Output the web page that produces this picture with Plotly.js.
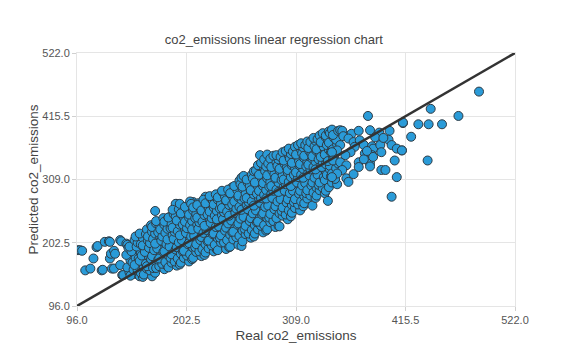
<!DOCTYPE html>
<html>
<head>
<meta charset="utf-8">
<script src="https://cdn.plot.ly/plotly-3.0.1.min.js"></script>
<style>html,body{margin:0;padding:0;background:#fff;}#chart{width:567px;height:362px;}</style>
</head>
<body>
<div id="chart"></div>
<script>
// Real vs predicted co2_emissions
const realCo2 = [
  97,99,101,104,109,112,115,116,120,121,123,127,128,128,129,130,132,132,133,138,138,139,140,141,144,145,150,152,153,172,187,193,221,233,247,192,193,209,216,
  147,145,148,144,146,
  148,151,150,153,149,147,152,
  157,155,152,156,158,154,155,153,
  160,158,161,157,159,162,158,160,157,
  161,164,163,166,162,160,165,163,164,
  169,167,164,168,170,166,167,165,169,168,
  172,170,173,169,171,174,170,172,169,173,
  173,176,175,178,174,172,177,175,176,173,
  181,179,176,180,182,178,179,177,181,180,
  184,182,185,181,183,186,182,184,181,185,
  185,188,187,190,186,184,189,187,188,185,190,
  193,191,188,192,194,190,191,189,193,192,189,
  196,194,197,193,195,198,194,196,193,197,195,196,
  197,200,199,202,198,196,201,199,200,197,202,
  205,203,200,204,206,202,203,201,205,204,201,206,
  208,206,209,205,207,210,206,208,205,209,207,
  209,212,211,214,210,208,213,211,212,209,214,
  217,215,212,216,218,214,215,213,217,216,213,
  220,218,221,217,219,222,218,220,217,221,219,
  221,224,223,226,222,220,225,223,224,221,226,
  229,227,224,228,230,226,227,225,229,228,225,
  232,230,233,229,231,234,230,232,229,233,231,
  233,236,235,238,234,232,237,235,236,233,238,
  241,239,236,240,242,238,239,237,241,240,237,
  244,242,245,241,243,246,242,244,241,245,243,
  245,248,247,250,246,244,249,247,248,245,250,
  253,251,248,252,254,250,251,249,253,252,249,254,
  256,254,257,253,255,258,254,256,253,257,255,256,
  257,260,259,262,258,256,261,259,260,257,262,258,
  265,263,260,264,266,262,263,261,265,264,261,266,
  268,266,269,265,267,270,266,268,265,269,267,268,
  269,272,271,274,270,268,273,271,272,269,274,270,272,
  277,275,272,276,278,274,275,273,277,276,273,278,275,274,
  280,278,281,277,279,282,278,280,277,281,279,280,278,281,
  281,284,283,286,282,280,285,283,284,281,286,282,284,
  289,287,284,288,290,286,287,285,289,288,285,290,287,
  292,290,293,289,291,294,290,292,289,293,291,292,290,
  293,296,295,298,294,292,297,295,296,293,298,294,296,
  301,299,296,300,302,298,299,297,301,300,297,302,299,
  304,302,305,301,303,306,302,304,301,305,303,304,302,
  305,308,307,310,306,304,309,307,308,305,310,306,308,
  313,311,308,312,314,310,311,309,313,312,309,314,311,
  316,314,317,313,315,318,314,316,313,317,315,316,314,
  317,320,319,322,318,316,321,319,320,317,322,318,320,
  325,323,320,324,326,322,323,321,325,324,321,326,323,
  328,326,329,325,327,330,326,328,325,329,327,328,326,
  329,332,331,334,330,328,333,331,332,329,334,330,332,
  337,335,332,336,338,334,335,333,337,336,333,338,335,
  340,338,341,337,339,342,338,340,337,341,339,340,338,341,
  341,344,343,346,342,340,345,343,344,341,346,342,344,
  349,347,344,348,350,346,347,345,349,348,345,350,
  352,358,354,363,370,381,388,390,400,399,355,360,365,371,375,366,362,352,349,344,357,345,352,358,354,349,344,358,370,383,384,391,392,383,381,381,392,396,402,407,412,405,407,384,376,402,379,413,413,428,438,451,421,412,437,440,467,487,
  360,365,370,375,378,386,394
];
const predictedCo2 = [
  190,190,189,156,159,176,195,197,156,157,204,205,204,176,184,159,189,159,184,207,165,205,148,148,201,199,190,181,150,256,246,268,280,280,296,268,257,271,266,
  153,161,173,182,194,
  147,157,169,177,188,196,207,
  146,156,165,176,185,196,203,213,
  145,152,161,172,181,192,200,211,218,
  149,159,167,179,187,198,206,217,225,
  146,156,163,175,183,194,202,213,221,232,
  152,160,171,180,190,198,209,218,229,235,
  160,163,174,182,193,201,212,220,232,239,
  158,167,176,187,195,206,213,225,233,244,
  163,170,181,188,200,207,219,226,238,245,
  161,169,177,189,196,208,215,227,234,245,251,
  164,171,183,191,202,209,221,228,240,247,258,
  166,176,184,195,203,214,222,233,240,251,259,268,
  169,177,188,196,207,215,226,233,245,252,263,
  171,181,189,200,208,219,227,238,245,256,263,272,
  175,183,194,202,213,220,232,239,250,257,268,
  177,187,195,206,214,225,233,244,251,262,269,
  180,188,200,207,218,226,237,245,256,263,266,
  182,192,200,212,219,231,238,249,257,268,275,
  186,193,205,212,224,231,243,250,261,269,278,
  188,198,206,217,225,236,244,255,262,274,281,
  191,199,210,218,229,237,248,256,267,275,284,
  190,203,211,222,230,242,249,260,268,279,287,
  192,203,215,223,234,242,254,261,273,280,290,
  195,207,216,228,235,247,255,266,274,285,292,
  196,208,220,228,240,248,259,267,278,286,297,
  199,212,221,233,241,253,260,272,279,291,298,307,
  197,214,223,235,243,255,263,275,282,294,301,312,
  205,217,226,238,246,258,266,277,285,297,304,315,
  211,218,231,239,251,259,271,278,290,298,309,317,
  213,224,232,244,252,264,272,284,291,303,311,323,
  218,225,237,245,257,265,277,285,297,304,316,324,333,
  220,231,238,250,258,270,278,290,298,310,317,329,337,350,
  223,232,244,252,263,271,283,291,303,311,323,331,343,351,
  225,237,245,257,265,277,285,297,305,316,324,336,344,
  229,239,251,259,270,278,290,298,310,318,330,338,349,
  231,244,252,264,272,284,292,304,312,324,332,343,350,
  230,248,256,268,276,288,296,308,316,327,335,347,355,
  242,250,262,270,282,290,301,309,321,329,341,349,357,
  247,257,266,276,286,294,305,313,325,333,344,352,361,
  253,261,271,280,290,298,309,317,329,337,348,356,364,
  257,267,276,285,294,304,313,321,332,340,351,359,367,
  264,272,281,290,299,308,317,327,335,345,353,363,370,
  269,277,286,295,303,312,321,331,339,349,357,367,373,
  265,282,291,299,308,316,326,334,344,352,362,370,372,
  278,287,295,304,312,321,330,339,348,357,365,374,379,
  282,291,300,309,317,326,334,343,352,360,369,377,383,
  286,295,304,313,322,330,339,347,356,364,372,380,387,
  273,290,299,308,317,326,335,343,351,359,367,375,383,390,
  296,304,314,323,332,340,348,355,363,371,379,387,393,
  301,310,319,328,336,344,352,360,368,376,384,391,
  392,382,391,386,391,392,383,388,391,376,382,378,372,375,367,364,355,367,358,355,350,341,338,333,325,319,313,311,338,365,361,367,355,350,336,331,325,325,367,361,358,341,313,347,353,280,416,404,405,402,402,402,381,358,341,428,416,457,
  305,318,330,343,357,380,379
];
// reference line: real = predicted
const lineX = [96, 522];
const lineY = [96, 522];
const tickVals = [96, 202.5, 309, 415.5, 522];
const tickText = ['96.0', '202.5', '309.0', '415.5', '522.0'];

const font = 'Liberation Sans, Arial, sans-serif';
const axisCommon = {
  range: [96, 522], tickvals: tickVals, ticktext: tickText,
  showgrid: true, gridcolor: '#e5e5e5', gridwidth: 1,
  showline: true, mirror: true, linecolor: '#e5e5e5', linewidth: 1,
  zeroline: false, ticks: 'outside', ticklen: 4, tickcolor: '#d0d0d0',
  tickfont: {family: font, size: 11, color: '#555'}
};
const data = [
  {type: 'scatter', mode: 'markers', x: realCo2, y: predictedCo2,
   marker: {size: 9, color: '#2a9bd8', line: {color: '#2f3b44', width: 1}},
   hoverinfo: 'x+y', showlegend: false},
  {type: 'scatter', mode: 'lines', x: lineX, y: lineY,
   line: {color: '#333333', width: 2.5}, showlegend: false}
];
const layout = {
  width: 567, height: 362,
  margin: {l: 77, r: 52, t: 53, b: 56},
  paper_bgcolor: '#ffffff', plot_bgcolor: '#ffffff',
  title: {text: 'co2_emissions linear regression chart', font: {family: font, size: 13, color: '#444'},
          xref: 'container', x: 0.483, xanchor: 'center', yref: 'container', y: 0.892, yanchor: 'middle'},
  xaxis: Object.assign({}, axisCommon, {title: {text: 'Real co2_emissions', font: {family: font, size: 13.5, color: '#444'}, standoff: 5}}),
  yaxis: Object.assign({}, axisCommon, {title: {text: 'Predicted co2_emissions', font: {family: font, size: 13.5, color: '#444'}, standoff: 0}}),
  showlegend: false
};
Plotly.newPlot('chart', data, layout, {displayModeBar: false, staticPlot: true});
</script>
</body>
</html>
